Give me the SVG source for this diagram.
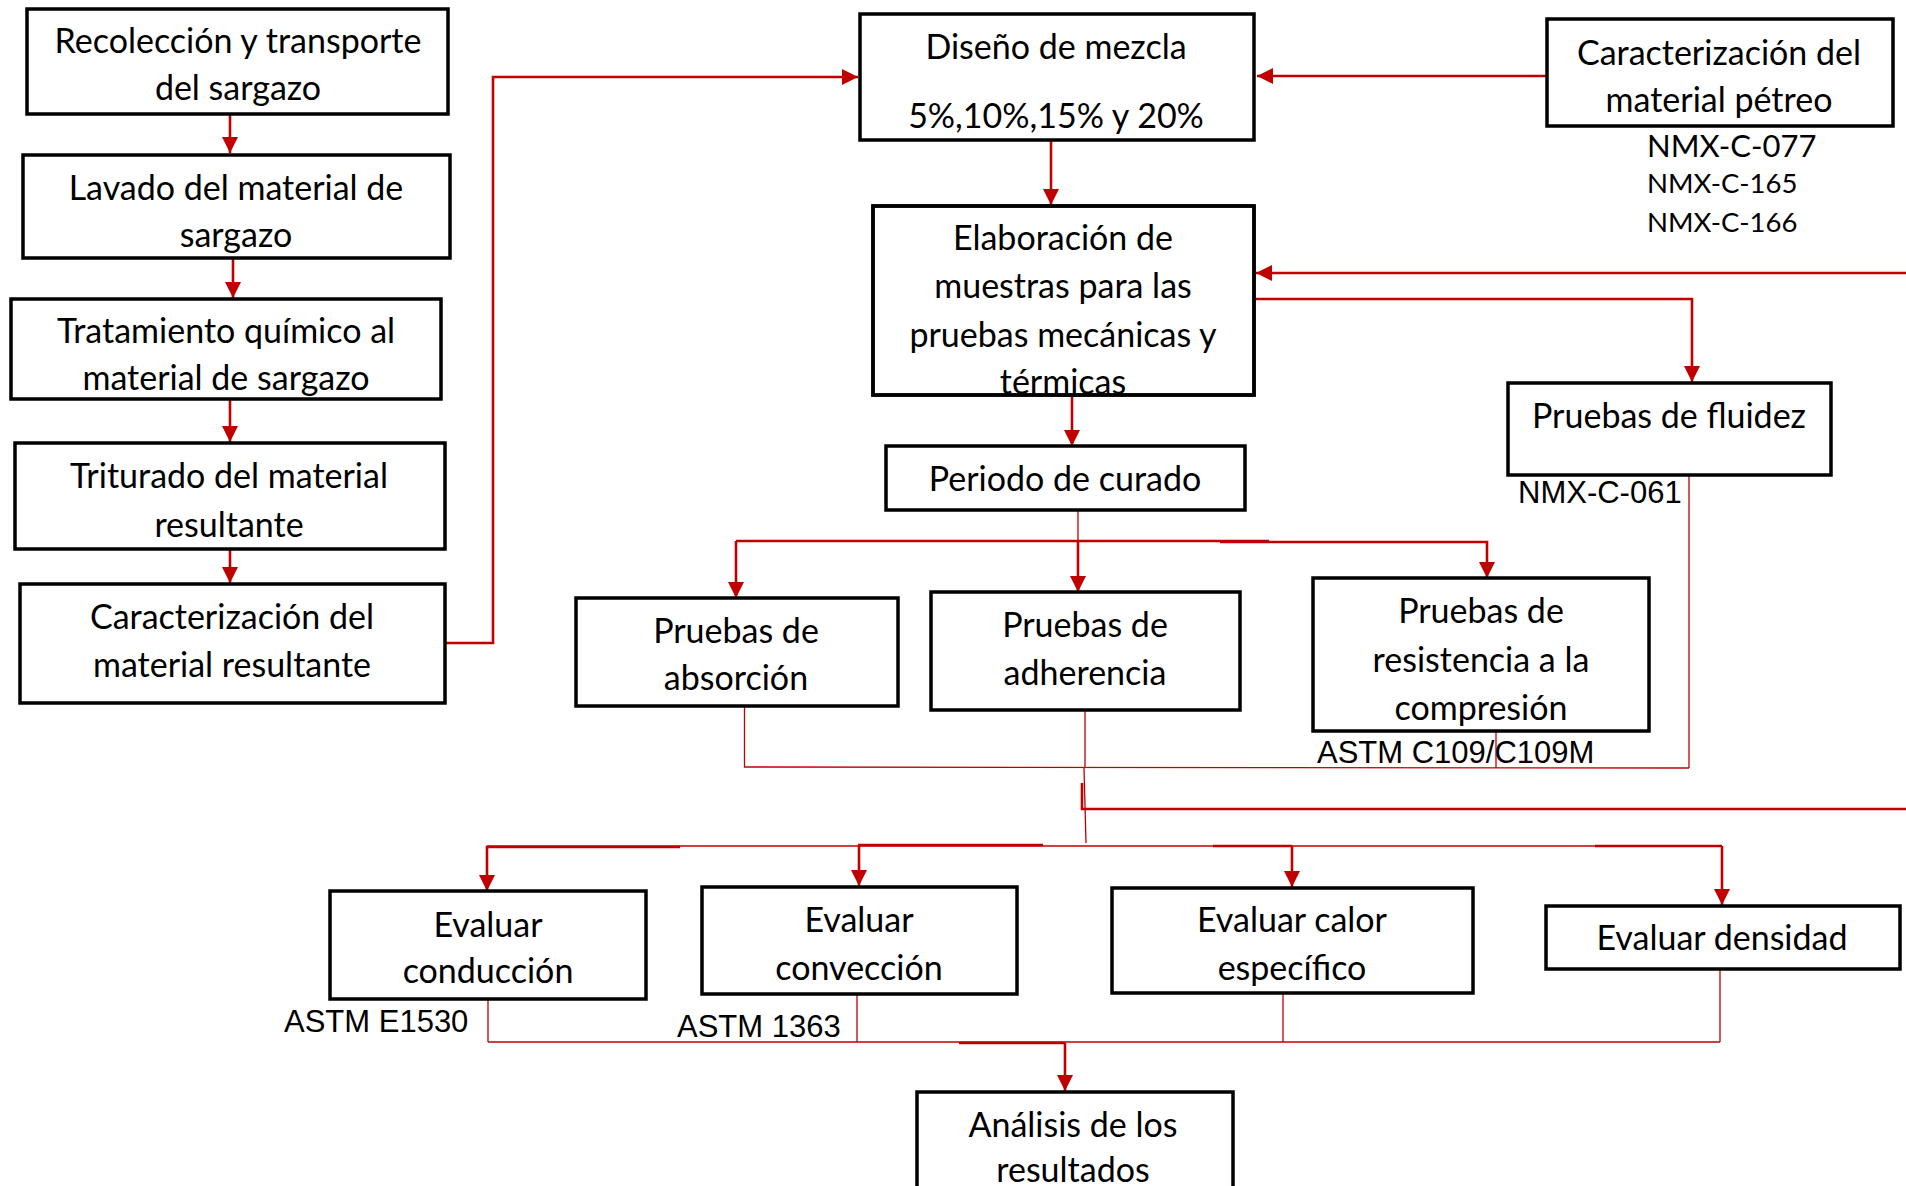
<svg xmlns="http://www.w3.org/2000/svg" width="1906" height="1186" viewBox="0 0 1906 1186">
<defs>
<marker id="ah" viewBox="0 0 10 10" refX="10" refY="5" markerWidth="16" markerHeight="16" markerUnits="userSpaceOnUse" orient="auto">
<path d="M0,0 L10,5 L0,10 z" fill="#C00000"/>
</marker>
<clipPath id="clipElab"><rect x="873" y="206" width="381" height="189"/></clipPath>
<style>
.box{fill:#fff;stroke:#000;stroke-width:3.5}
.t{font-family:Lato,"Open Sans",sans-serif;font-size:34px;fill:#000;text-anchor:middle}
.n{font-family:"Liberation Sans",Arial,sans-serif;font-size:31px;fill:#000}
.nc{font-family:Lato,"Open Sans",sans-serif;fill:#000}
.k{fill:none;stroke:#C00000;stroke-width:2.6}
.h{fill:none;stroke:#C00000;stroke-width:1.3}
.a{marker-end:url(#ah)}
</style>
</defs>
<rect width="1906" height="1186" fill="#fff"/>
<g id="connectors">
<line class="k a" x1="230" y1="114" x2="230" y2="153"/>
<line class="k a" x1="233" y1="259" x2="233" y2="298"/>
<line class="k a" x1="230" y1="400" x2="230" y2="442"/>
<line class="k a" x1="230" y1="549" x2="230" y2="583"/>
<polyline class="k a" points="445,643 493,643 493,77 858,77"/>
<line class="k a" x1="1547" y1="76" x2="1257" y2="76"/>
<line class="k a" x1="1051" y1="140" x2="1051" y2="205"/>
<line class="k a" x1="1906" y1="273" x2="1256" y2="273"/>
<polyline class="k a" points="1254,299 1692,299 1692,382"/>
<line class="k a" x1="1072" y1="395" x2="1072" y2="446"/>
<line class="h" x1="1078" y1="510" x2="1078" y2="541"/>
<line class="k" x1="736" y1="541" x2="1269" y2="541"/>
<line class="k a" x1="736" y1="541" x2="736" y2="598"/>
<line class="k a" x1="1078" y1="541" x2="1078" y2="592"/>
<polyline class="k a" points="1220,542 1487,542 1487,578"/>
<polyline class="h" points="744.5,706 744.5,767 1689,768"/>
<line class="h" x1="1689" y1="475" x2="1689" y2="768"/>
<line class="h" x1="1496" y1="731" x2="1496" y2="768"/>
<line class="h" x1="1085" y1="710" x2="1085" y2="768"/>
<line class="h" x1="1084" y1="768" x2="1086" y2="843"/>
<polyline class="k" points="1082,783 1082,809 1906,809"/>
<line class="h" x1="487" y1="846" x2="1722" y2="846"/>
<line class="k" x1="560" y1="847" x2="680" y2="847"/>
<line class="k" x1="858" y1="845" x2="1043" y2="845"/>
<line class="k" x1="1213" y1="846" x2="1292" y2="846"/>
<line class="k" x1="1595" y1="846" x2="1722" y2="846"/>
<polyline class="k a" points="560,847 487,847 487,891"/>
<line class="k a" x1="859" y1="845" x2="859" y2="886"/>
<line class="k a" x1="1292" y1="846" x2="1292" y2="887"/>
<line class="k a" x1="1722" y1="846" x2="1722" y2="905"/>
<line class="h" x1="488" y1="999" x2="488" y2="1042"/>
<line class="h" x1="857" y1="994" x2="857" y2="1042"/>
<line class="h" x1="1283" y1="993" x2="1283" y2="1042"/>
<line class="h" x1="1720" y1="969" x2="1720" y2="1042"/>
<line class="h" x1="488" y1="1042" x2="1720" y2="1042"/>
<line class="k" x1="959" y1="1043" x2="1065" y2="1043"/>
<line class="k a" x1="1065" y1="1043" x2="1065" y2="1091"/>
</g>
<g id="n1"><rect class="box" x="27" y="9" width="421" height="105"/><text class="t" x="238" y="53">Recolección y transporte</text><text class="t" x="238" y="100">del sargazo</text></g>
<g id="n2"><rect class="box" x="23" y="155" width="427" height="103"/><text class="t" x="236" y="200">Lavado del material de</text><text class="t" x="236" y="247">sargazo</text></g>
<g id="n3"><rect class="box" x="11" y="299" width="430" height="100"/><text class="t" x="226" y="343">Tratamiento químico al</text><text class="t" x="226" y="390">material de sargazo</text></g>
<g id="n4"><rect class="box" x="15" y="443" width="430" height="106"/><text class="t" x="229" y="488">Triturado del material</text><text class="t" x="229" y="537">resultante</text></g>
<g id="n5"><rect class="box" x="20" y="584" width="425" height="119"/><text class="t" x="232" y="629">Caracterización del</text><text class="t" x="232" y="677">material resultante</text></g>
<g id="n6"><rect class="box" x="860" y="14" width="394" height="126"/><text class="t" x="1056" y="59">Diseño de mezcla</text><text class="t" x="1056" y="128">5%,10%,15% y 20%</text></g>
<g id="n7"><rect class="box" x="873" y="206" width="381" height="189"/><g clip-path="url(#clipElab)"><text class="t" x="1063" y="250">Elaboración de</text><text class="t" x="1063" y="298">muestras para las</text><text class="t" x="1063" y="347">pruebas mecánicas y</text><text class="t" x="1063" y="394">térmicas</text></g><rect x="873" y="206" width="381" height="189" fill="none" stroke="#000" stroke-width="3.5"/></g>
<g id="n8"><rect class="box" x="1547" y="19" width="346" height="107"/><text class="t" x="1719" y="65">Caracterización del</text><text class="t" x="1719" y="112">material pétreo</text>
<text class="nc" x="1647" y="157" font-size="31">NMX-C-077</text><text class="nc" x="1647" y="193" font-size="27.5">NMX-C-165</text><text class="nc" x="1647" y="232" font-size="27.5">NMX-C-166</text></g>
<g id="n9"><rect class="box" x="886" y="446" width="359" height="64"/><text class="t" x="1065" y="491">Periodo de curado</text></g>
<g id="n10"><rect class="box" x="1508" y="383" width="323" height="92"/><text class="t" x="1669" y="428">Pruebas de fluidez</text><text class="n" x="1518" y="503">NMX-C-061</text></g>
<g id="n11"><rect class="box" x="576" y="598" width="322" height="108"/><text class="t" x="736" y="643">Pruebas de</text><text class="t" x="736" y="690">absorción</text></g>
<g id="n12"><rect class="box" x="931" y="592" width="309" height="118"/><text class="t" x="1085" y="637">Pruebas de</text><text class="t" x="1085" y="685">adherencia</text></g>
<g id="n13"><rect class="box" x="1313" y="578" width="336" height="153"/><text class="t" x="1481" y="623">Pruebas de</text><text class="t" x="1481" y="672">resistencia a la</text><text class="t" x="1481" y="720">compresión</text><text class="n" x="1317" y="763">ASTM C109/C109M</text></g>
<g id="n14"><rect class="box" x="330" y="891" width="316" height="108"/><text class="t" x="488" y="937">Evaluar</text><text class="t" x="488" y="983">conducción</text><text class="n" x="284" y="1032">ASTM E1530</text></g>
<g id="n15"><rect class="box" x="702" y="887" width="315" height="107"/><text class="t" x="859" y="932">Evaluar</text><text class="t" x="859" y="980">convección</text><text class="n" x="677" y="1037">ASTM 1363</text></g>
<g id="n16"><rect class="box" x="1112" y="888" width="361" height="105"/><text class="t" x="1292" y="932">Evaluar calor</text><text class="t" x="1292" y="980">específico</text></g>
<g id="n17"><rect class="box" x="1546" y="906" width="354" height="63"/><text class="t" x="1722" y="950">Evaluar densidad</text></g>
<g id="n18"><rect class="box" x="917" y="1092" width="316" height="110"/><text class="t" x="1073" y="1137">Análisis de los</text><text class="t" x="1073" y="1182">resultados</text></g>
</svg>
